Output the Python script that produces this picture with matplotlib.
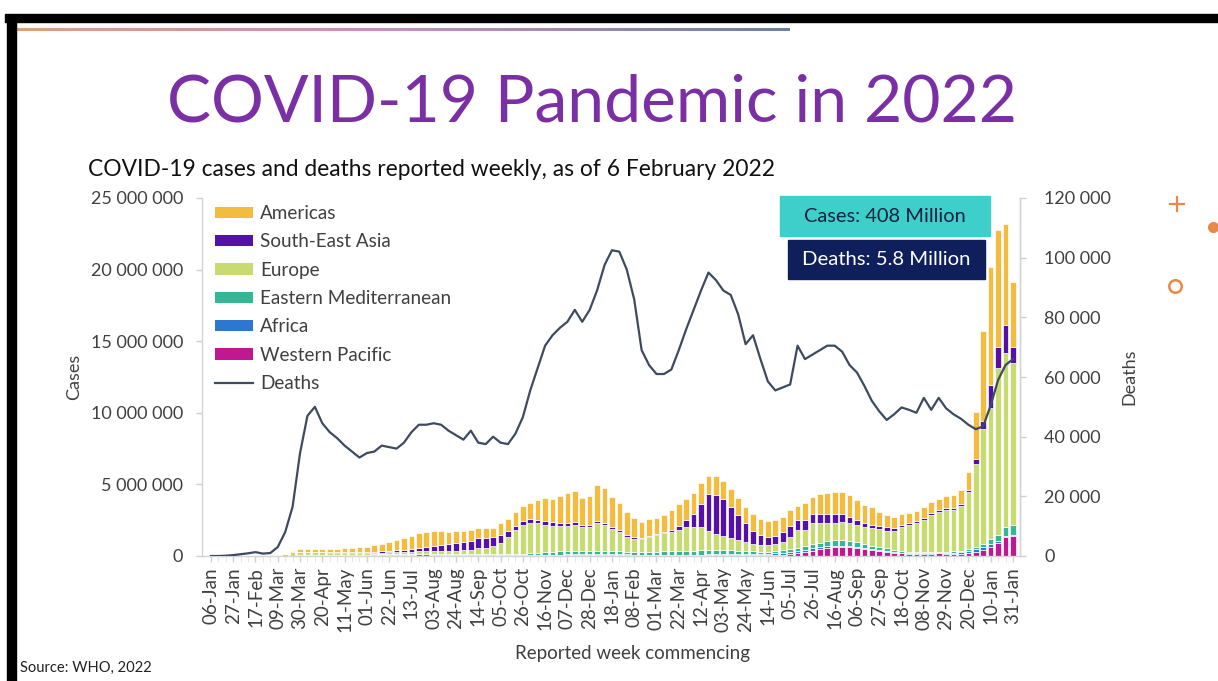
"""Recreate the WHO weekly COVID-19 cases/deaths slide (as of 6 Feb 2022)."""

import matplotlib
matplotlib.use("Agg")
import matplotlib.pyplot as plt
import numpy as np
from matplotlib.colors import LinearSegmentedColormap
from matplotlib.lines import Line2D
from matplotlib.patches import Patch, Rectangle
from matplotlib.ticker import FuncFormatter, MultipleLocator

W, H = 1218, 681

# weekly cases in thousands, week commencing 06-Jan-2020 ... 31-Jan-2022
americas = [
    0, 0, 0, 0, 0, 0, 0, 0, 1, 5,
    30, 110, 190, 220, 220, 220, 230, 245, 265, 300,
    340, 380, 440, 500, 590, 690, 800, 880, 1000, 1050,
    1000, 950, 900, 850, 820, 780, 700, 680, 660, 800,
    820, 1000, 1010, 1160, 1380, 1640, 1640, 1900, 2100, 2160,
    1910, 2020, 2520, 2400, 2140, 1900, 1630, 1320, 1170, 1160,
    1090, 1150, 1390, 1530, 1460, 1480, 1440, 1300, 1300, 1250,
    1250, 1170, 1120, 1160, 1090, 1160, 1110, 1000, 1120, 970,
    1200, 1190, 1420, 1510, 1580, 1560, 1560, 1400, 1280, 1290,
    1000, 860, 760, 780, 710, 690, 760, 780, 780, 850,
    900, 970, 1250, 3300, 6300, 8200, 8200, 7000, 4550,
]
south_east_asia = [
    0, 0, 0, 0, 0, 0, 0, 0, 0, 0,
    1, 3, 5, 10, 15, 20, 25, 30, 35, 45,
    55, 65, 80, 100, 120, 140, 170, 210, 260, 330,
    380, 430, 470, 520, 560, 620, 700, 680, 640, 620,
    440, 280, 280, 280, 230, 230, 230, 190, 190, 190,
    120, 120, 160, 140, 140, 120, 120, 100, 70, 100,
    100, 130, 180, 250, 450, 860, 1600, 2550, 2750, 2550,
    2150, 1750, 1300, 930, 700, 540, 560, 700, 790, 700,
    700, 630, 630, 580, 580, 560, 420, 350, 280, 230,
    230, 230, 190, 160, 150, 150, 150, 150, 150, 140,
    140, 140, 160, 350, 500, 1600, 1500, 2000, 1160,
]
europe = [
    0, 0, 0, 0, 0, 0, 0, 1, 10, 50,
    110, 220, 250, 230, 215, 200, 180, 170, 155, 140,
    125, 115, 115, 120, 130, 125, 130, 135, 150, 160,
    180, 190, 200, 230, 270, 320, 400, 460, 530, 740,
    1160, 1670, 2000, 2100, 2100, 1930, 1830, 1770, 1800, 1840,
    1700, 1740, 1930, 1830, 1520, 1380, 1050, 930, 890, 1020,
    1140, 1250, 1290, 1450, 1680, 1680, 1650, 1350, 1100, 1000,
    900, 780, 670, 520, 460, 460, 500, 600, 820, 1250,
    1140, 1470, 1340, 1280, 1220, 1230, 1220, 1200, 1150, 1200,
    1240, 1240, 1320, 1650, 1860, 2000, 2240, 2590, 2800, 2900,
    2900, 3100, 4000, 5750, 8050, 9200, 11600, 12130, 11300,
]
eastern_med = [
    0, 0, 0, 0, 0, 0, 0, 1, 8, 10,
    15, 20, 25, 28, 32, 35, 40, 50, 55, 60,
    65, 70, 75, 80, 80, 75, 70, 65, 65, 65,
    60, 55, 60, 65, 70, 75, 80, 90, 95, 100,
    100, 110, 120, 130, 150, 180, 200, 220, 220, 220,
    200, 170, 180, 190, 190, 190, 190, 190, 190, 210,
    230, 260, 280, 290, 280, 280, 290, 300, 300, 290,
    270, 240, 210, 190, 170, 160, 160, 170, 180, 200,
    230, 280, 330, 380, 400, 400, 370, 330, 290, 250,
    220, 190, 160, 130, 110, 100, 95, 90, 85, 80,
    80, 80, 90, 130, 200, 320, 450, 600, 650,
]
africa = [
    0, 0, 0, 0, 0, 0, 0, 0, 0, 0,
    1, 2, 4, 5, 6, 7, 8, 10, 12, 15,
    18, 22, 26, 32, 40, 50, 60, 75, 80, 75,
    65, 55, 45, 40, 35, 30, 28, 25, 22, 20,
    20, 20, 22, 25, 30, 35, 40, 45, 50, 60,
    70, 85, 95, 90, 80, 70, 60, 50, 40, 35,
    30, 30, 30, 30, 30, 30, 30, 30, 30, 30,
    30, 30, 30, 35, 45, 70, 100, 130, 160, 170,
    170, 150, 130, 120, 110, 95, 85, 75, 65, 55,
    45, 40, 30, 25, 20, 18, 15, 15, 15, 30,
    80, 150, 200, 260, 250, 200, 150, 120, 100,
]
western_pacific = [
    0, 0, 2, 15, 20, 30, 8, 6, 5, 5,
    6, 8, 12, 14, 14, 12, 10, 8, 8, 8,
    8, 8, 9, 10, 12, 14, 18, 22, 28, 30,
    35, 35, 30, 25, 20, 18, 18, 18, 18, 20,
    20, 22, 25, 30, 35, 40, 45, 50, 55, 60,
    60, 60, 75, 80, 70, 60, 50, 40, 35, 35,
    40, 40, 45, 50, 55, 60, 70, 75, 80, 85,
    90, 90, 90, 90, 85, 80, 80, 100, 140, 200,
    280, 380, 480, 550, 600, 620, 600, 560, 500, 420,
    360, 300, 240, 190, 170, 160, 160, 170, 180, 170,
    160, 150, 180, 250, 400, 650, 900, 1300, 1400,
]
deaths = [
    0, 0, 100, 300, 600, 900, 1300, 800, 1000, 3000,
    8000, 16500, 34500, 47000, 50000, 44500, 41500, 39500, 37000, 35000,
    33000, 34500, 35000, 37000, 36500, 36000, 38000, 41500, 44000, 44000,
    44500, 44000, 42000, 40500, 39000, 42000, 38000, 37500, 40000, 38000,
    37500, 41000, 46500, 55500, 63000, 70500, 74000, 76500, 78500, 82500,
    78500, 82500, 89000, 97500, 102500, 102000, 96000, 86000, 69000, 64000,
    61000, 61000, 62500, 69000, 76000, 82500, 89000, 95000, 92500, 89000,
    87500, 81000, 71000, 74000, 66000, 58500, 55500, 56500, 57500, 70500,
    66000, 67500, 69000, 70500, 70500, 68500, 64000, 61500, 57000, 52000,
    48500, 45600, 47500, 49800, 49000, 48000, 53000, 49000, 53000, 49500,
    47500, 46000, 44000, 42500, 43500, 50500, 59000, 64000, 66000,
]

week_labels = [
    "06-Jan", "27-Jan", "17-Feb", "09-Mar", "30-Mar", "20-Apr", "11-May",
    "01-Jun", "22-Jun", "13-Jul", "03-Aug", "24-Aug", "14-Sep", "05-Oct",
    "26-Oct", "16-Nov", "07-Dec", "28-Dec", "18-Jan", "08-Feb", "01-Mar",
    "22-Mar", "12-Apr", "03-May", "24-May", "14-Jun", "05-Jul", "26-Jul",
    "16-Aug", "06-Sep", "27-Sep", "18-Oct", "08-Nov", "29-Nov", "20-Dec",
    "10-Jan", "31-Jan",
]

# bottom -> top of the stack
regions = [
    ("Western Pacific", western_pacific, "#C0188E"),
    ("Africa", africa, "#2D77D1"),
    ("Eastern Mediterranean", eastern_med, "#35B795"),
    ("Europe", europe, "#C8DA72"),
    ("South-East Asia", south_east_asia, "#5510A8"),
    ("Americas", americas, "#F4BC3F"),
]
DEATH_COLOR = "#3D4B60"
TEXT = "#404040"
ORANGE = "#E8894A"

plt.rcParams["font.family"] = ["Lato", "DejaVu Sans"]


def fx(px):
    return px / W


def fy(py):
    return 1 - py / H


def space_thousands(v, _pos=None):
    return f"{int(round(v)):,}".replace(",", " ")


def draw_slide_frame(fig):
    """Black border, gradient rule and small orange decorations."""
    black = dict(transform=fig.transFigure, color="black", zorder=0)
    fig.patches.append(Rectangle((fx(5), fy(22)), fx(W - 5), 8 / H, **black))
    fig.patches.append(Rectangle((fx(7), 0), fx(9), fy(22), **black))

    cmap = LinearSegmentedColormap.from_list(
        "rule", ["#D9A27F", "#C48EBE", "#6B7FA3"])
    gax = fig.add_axes([fx(16), fy(31), fx(774), 3 / H])
    gax.imshow(np.linspace(0, 1, 256)[None, :], cmap=cmap, aspect="auto")
    gax.axis("off")

    tf = fig.transFigure
    fig.add_artist(Line2D([fx(1170), fx(1184)], [fy(204), fy(204)],
                          color=ORANGE, lw=1.6, transform=tf))
    fig.add_artist(Line2D([fx(1177), fx(1177)], [fy(197), fy(211)],
                          color=ORANGE, lw=1.6, transform=tf))
    fig.add_artist(Line2D([fx(1213)], [fy(227)], marker="o", ms=7,
                          color=ORANGE, mec=ORANGE, transform=tf))
    fig.add_artist(Line2D([fx(1175)], [fy(286)], marker="o", ms=9,
                          mfc="white", mec=ORANGE, mew=1.8, transform=tf))


def main():
    n = len(deaths)
    for _, vals, _ in regions:
        assert len(vals) == n
    x = np.arange(n)

    fig = plt.figure(figsize=(W / 100, H / 100), dpi=100)
    fig.patch.set_facecolor("white")
    draw_slide_frame(fig)

    fig.text(fx(592), fy(122), "COVID-19 Pandemic in 2022", color="#7B2FA5",
             fontsize=47.5, ha="center", va="baseline")
    fig.text(fx(88), fy(176),
             "COVID-19 cases and deaths reported weekly, as of 6 February 2022",
             color="#111111", fontsize=16.4, ha="left", va="baseline")
    fig.text(fx(20), fy(672), "Source: WHO, 2022", color="#222222",
             fontsize=10.6, ha="left", va="baseline")

    left, right, top, bottom = 202, 1020, 198, 556
    ax = fig.add_axes([fx(left), fy(bottom), fx(right - left),
                       (bottom - top) / H])

    base = np.zeros(n)
    handles = {}
    for name, vals, color in regions:
        v = np.array(vals, dtype=float) * 1000
        ax.bar(x, v, bottom=base, width=0.76, color=color,
               edgecolor="white", linewidth=0.5)
        base += v
        handles[name] = Patch(facecolor=color, edgecolor="none")

    ax.set_xlim(-1.2, n - 1 + 0.95)
    ax.set_ylim(0, 25_000_000)
    ax.yaxis.set_major_locator(MultipleLocator(5_000_000))
    ax.yaxis.set_major_formatter(FuncFormatter(space_thousands))
    ax.set_xticks(x[::3])
    ax.set_xticklabels(week_labels, rotation=90)
    ax.set_xticks(x, minor=True)

    ax2 = ax.twinx()
    ax2.plot(x, deaths, color=DEATH_COLOR, lw=1.6)
    ax2.set_ylim(0, 120_000)
    ax2.yaxis.set_major_locator(MultipleLocator(20_000))
    ax2.yaxis.set_major_formatter(FuncFormatter(space_thousands))

    for a in (ax, ax2):
        a.set_facecolor("none")
        a.spines["top"].set_visible(False)
        for side in ("left", "right", "bottom"):
            a.spines[side].set_color("#D4D4D4")
            a.spines[side].set_linewidth(1.0)
        a.tick_params(colors="#D0D0D0", labelcolor=TEXT, labelsize=13,
                      length=4.5, width=1.0)
    ax.tick_params(axis="y", pad=9)
    ax2.tick_params(axis="y", pad=13)
    ax.tick_params(axis="x", which="major", length=4, pad=4, labelsize=13.5)
    ax.tick_params(axis="x", which="minor", length=4, color="#E2E2E2")
    ax2.spines["left"].set_visible(False)
    ax2.spines["bottom"].set_visible(False)

    ax.set_ylabel("Cases", fontsize=13, color=TEXT)
    ax.yaxis.set_label_coords(-0.147, 0.5)
    ax2.set_ylabel("Deaths", fontsize=13, color=TEXT)
    ax2.yaxis.set_label_coords(1.124, 0.5)
    ax.set_xlabel("Reported week commencing", fontsize=13.5, color=TEXT)
    ax.xaxis.set_label_coords(0.526, -0.25)

    order = ["Americas", "South-East Asia", "Europe", "Eastern Mediterranean",
             "Africa", "Western Pacific"]
    leg_handles = [handles[k] for k in order]
    leg_handles.append(Line2D([], [], color=DEATH_COLOR, lw=1.6))
    leg = fig.legend(leg_handles, order + ["Deaths"], loc="upper left",
                     bbox_to_anchor=(fx(215), fy(205)), frameon=False,
                     fontsize=13.6, borderpad=0, borderaxespad=0,
                     handlelength=2.0, handleheight=0.55, handletextpad=0.4,
                     labelspacing=0.6)
    for t in leg.get_texts():
        t.set_color(TEXT)

    tf = fig.transFigure
    fig.patches.append(Rectangle((fx(780), fy(236)), fx(210), 40 / H,
                                 transform=tf, color="#3FCFCB", zorder=5))
    fig.text(fx(885), fy(216), "Cases: 408 Million", color="#0E2040",
             fontsize=14.4, ha="center", va="center", zorder=6)
    fig.patches.append(Rectangle((fx(788), fy(279)), fx(197), 39 / H,
                                 transform=tf, color="#0E1F5C", zorder=5))
    fig.text(fx(886), fy(259), "Deaths: 5.8 Million", color="white",
             fontsize=14.6, ha="center", va="center", zorder=6)

    fig.savefig("out.png", dpi=100, facecolor="white")


if __name__ == "__main__":
    main()
